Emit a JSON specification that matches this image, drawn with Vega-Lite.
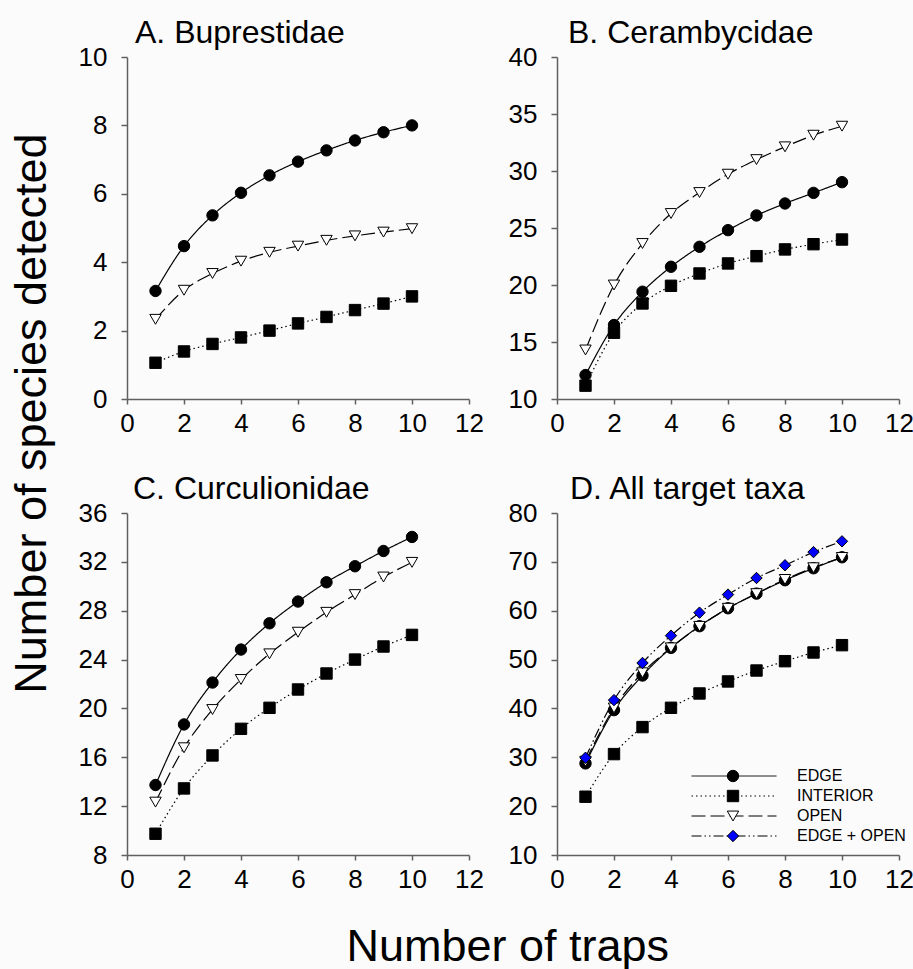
{
  "$schema": "https://vega.github.io/schema/vega-lite/v6.json",
  "background": "#fbfbfb",
  "padding": {"left": 10, "top": 17, "right": 0, "bottom": 0},
  "config": {
    "font": "Liberation Sans",
    "view": {"stroke": null},
    "axis": {"grid": false, "domainColor": "#606060", "domainWidth": 1.5, "tickColor": "#606060", "tickWidth": 1.5, "labelFont": "Liberation Sans", "labelFontSize": 26, "labelColor": "black", "labelFlush": false},
    "axisX": {"tickSize": 5, "labelPadding": 6},
    "axisY": {"tickSize": 6, "labelPadding": 14},
    "title": {"font": "Liberation Sans", "fontSize": 32, "fontWeight": "normal", "color": "black", "anchor": "start"}
  },
  "datasets": {
    "A": [
      {"traps": 1, "species": 1.06, "series": "INTERIOR"}, {"traps": 2, "species": 1.39, "series": "INTERIOR"}, {"traps": 3, "species": 1.61, "series": "INTERIOR"}, {"traps": 4, "species": 1.80, "series": "INTERIOR"}, {"traps": 5, "species": 2.00, "series": "INTERIOR"}, {"traps": 6, "species": 2.21, "series": "INTERIOR"}, {"traps": 7, "species": 2.40, "series": "INTERIOR"}, {"traps": 8, "species": 2.60, "series": "INTERIOR"}, {"traps": 9, "species": 2.79, "series": "INTERIOR"}, {"traps": 10, "species": 3.00, "series": "INTERIOR"},
      {"traps": 1, "species": 3.16, "series": "EDGE"}, {"traps": 2, "species": 4.47, "series": "EDGE"}, {"traps": 3, "species": 5.37, "series": "EDGE"}, {"traps": 4, "species": 6.03, "series": "EDGE"}, {"traps": 5, "species": 6.54, "series": "EDGE"}, {"traps": 6, "species": 6.94, "series": "EDGE"}, {"traps": 7, "species": 7.27, "series": "EDGE"}, {"traps": 8, "species": 7.56, "series": "EDGE"}, {"traps": 9, "species": 7.80, "series": "EDGE"}, {"traps": 10, "species": 8.00, "series": "EDGE"},
      {"traps": 1, "species": 2.33, "series": "OPEN"}, {"traps": 2, "species": 3.18, "series": "OPEN"}, {"traps": 3, "species": 3.67, "series": "OPEN"}, {"traps": 4, "species": 4.03, "series": "OPEN"}, {"traps": 5, "species": 4.29, "series": "OPEN"}, {"traps": 6, "species": 4.47, "series": "OPEN"}, {"traps": 7, "species": 4.64, "series": "OPEN"}, {"traps": 8, "species": 4.77, "series": "OPEN"}, {"traps": 9, "species": 4.88, "series": "OPEN"}, {"traps": 10, "species": 4.98, "series": "OPEN"}
    ],
    "B": [
      {"traps": 1, "species": 11.17, "series": "INTERIOR"}, {"traps": 2, "species": 15.81, "series": "INTERIOR"}, {"traps": 3, "species": 18.38, "series": "INTERIOR"}, {"traps": 4, "species": 19.93, "series": "INTERIOR"}, {"traps": 5, "species": 21.01, "series": "INTERIOR"}, {"traps": 6, "species": 21.89, "series": "INTERIOR"}, {"traps": 7, "species": 22.53, "series": "INTERIOR"}, {"traps": 8, "species": 23.12, "series": "INTERIOR"}, {"traps": 9, "species": 23.58, "series": "INTERIOR"}, {"traps": 10, "species": 23.99, "series": "INTERIOR"},
      {"traps": 1, "species": 12.1, "series": "EDGE"}, {"traps": 2, "species": 16.49, "series": "EDGE"}, {"traps": 3, "species": 19.41, "series": "EDGE"}, {"traps": 4, "species": 21.6, "series": "EDGE"}, {"traps": 5, "species": 23.35, "series": "EDGE"}, {"traps": 6, "species": 24.81, "series": "EDGE"}, {"traps": 7, "species": 26.1, "series": "EDGE"}, {"traps": 8, "species": 27.15, "series": "EDGE"}, {"traps": 9, "species": 28.08, "series": "EDGE"}, {"traps": 10, "species": 29.02, "series": "EDGE"},
      {"traps": 1, "species": 14.3, "series": "OPEN"}, {"traps": 2, "species": 20.0, "series": "OPEN"}, {"traps": 3, "species": 23.64, "series": "OPEN"}, {"traps": 4, "species": 26.27, "series": "OPEN"}, {"traps": 5, "species": 28.11, "series": "OPEN"}, {"traps": 6, "species": 29.72, "series": "OPEN"}, {"traps": 7, "species": 31.0, "series": "OPEN"}, {"traps": 8, "species": 32.12, "series": "OPEN"}, {"traps": 9, "species": 33.14, "series": "OPEN"}, {"traps": 10, "species": 33.93, "series": "OPEN"}
    ],
    "C": [
      {"traps": 1, "species": 9.74, "series": "INTERIOR"}, {"traps": 2, "species": 13.45, "series": "INTERIOR"}, {"traps": 3, "species": 16.15, "series": "INTERIOR"}, {"traps": 4, "species": 18.33, "series": "INTERIOR"}, {"traps": 5, "species": 20.05, "series": "INTERIOR"}, {"traps": 6, "species": 21.55, "series": "INTERIOR"}, {"traps": 7, "species": 22.86, "series": "INTERIOR"}, {"traps": 8, "species": 24.0, "series": "INTERIOR"}, {"traps": 9, "species": 25.07, "series": "INTERIOR"}, {"traps": 10, "species": 26.02, "series": "INTERIOR"},
      {"traps": 1, "species": 13.73, "series": "EDGE"}, {"traps": 2, "species": 18.69, "series": "EDGE"}, {"traps": 3, "species": 22.12, "series": "EDGE"}, {"traps": 4, "species": 24.82, "series": "EDGE"}, {"traps": 5, "species": 26.97, "series": "EDGE"}, {"traps": 6, "species": 28.75, "series": "EDGE"}, {"traps": 7, "species": 30.33, "series": "EDGE"}, {"traps": 8, "species": 31.64, "series": "EDGE"}, {"traps": 9, "species": 32.89, "series": "EDGE"}, {"traps": 10, "species": 34.04, "series": "EDGE"},
      {"traps": 1, "species": 12.33, "series": "OPEN"}, {"traps": 2, "species": 16.78, "series": "OPEN"}, {"traps": 3, "species": 19.91, "series": "OPEN"}, {"traps": 4, "species": 22.37, "series": "OPEN"}, {"traps": 5, "species": 24.47, "series": "OPEN"}, {"traps": 6, "species": 26.24, "series": "OPEN"}, {"traps": 7, "species": 27.87, "series": "OPEN"}, {"traps": 8, "species": 29.32, "series": "OPEN"}, {"traps": 9, "species": 30.76, "series": "OPEN"}, {"traps": 10, "species": 31.96, "series": "OPEN"}
    ],
    "D": [
      {"traps": 1, "species": 21.93, "series": "INTERIOR"}, {"traps": 2, "species": 30.65, "series": "INTERIOR"}, {"traps": 3, "species": 36.18, "series": "INTERIOR"}, {"traps": 4, "species": 40.13, "series": "INTERIOR"}, {"traps": 5, "species": 43.06, "series": "INTERIOR"}, {"traps": 6, "species": 45.52, "series": "INTERIOR"}, {"traps": 7, "species": 47.76, "series": "INTERIOR"}, {"traps": 8, "species": 49.67, "series": "INTERIOR"}, {"traps": 9, "species": 51.45, "series": "INTERIOR"}, {"traps": 10, "species": 52.95, "series": "INTERIOR"},
      {"traps": 1, "species": 28.75, "series": "EDGE"}, {"traps": 2, "species": 39.65, "series": "EDGE"}, {"traps": 3, "species": 46.74, "series": "EDGE"}, {"traps": 4, "species": 52.4, "series": "EDGE"}, {"traps": 5, "species": 56.83, "series": "EDGE"}, {"traps": 6, "species": 60.5, "series": "EDGE"}, {"traps": 7, "species": 63.5, "series": "EDGE"}, {"traps": 8, "species": 66.24, "series": "EDGE"}, {"traps": 9, "species": 68.69, "series": "EDGE"}, {"traps": 10, "species": 70.94, "series": "EDGE"},
      {"traps": 1, "species": 29.2, "series": "OPEN"}, {"traps": 2, "species": 40.1, "series": "OPEN"}, {"traps": 3, "species": 47.3, "series": "OPEN"}, {"traps": 4, "species": 52.4, "series": "OPEN"}, {"traps": 5, "species": 56.8, "series": "OPEN"}, {"traps": 6, "species": 60.5, "series": "OPEN"}, {"traps": 7, "species": 63.5, "series": "OPEN"}, {"traps": 8, "species": 66.4, "series": "OPEN"}, {"traps": 9, "species": 68.8, "series": "OPEN"}, {"traps": 10, "species": 70.9, "series": "OPEN"},
      {"traps": 1, "species": 29.9, "series": "EDGE + OPEN"}, {"traps": 2, "species": 41.7, "series": "EDGE + OPEN"}, {"traps": 3, "species": 49.3, "series": "EDGE + OPEN"}, {"traps": 4, "species": 54.9, "series": "EDGE + OPEN"}, {"traps": 5, "species": 59.6, "series": "EDGE + OPEN"}, {"traps": 6, "species": 63.3, "series": "EDGE + OPEN"}, {"traps": 7, "species": 66.7, "series": "EDGE + OPEN"}, {"traps": 8, "species": 69.3, "series": "EDGE + OPEN"}, {"traps": 9, "species": 72.0, "series": "EDGE + OPEN"}, {"traps": 10, "species": 74.2, "series": "EDGE + OPEN"}
    ]
  },
  "title": {"text": "Number of traps", "orient": "bottom", "anchor": "middle", "fontSize": 45, "font": "Liberation Sans", "fontWeight": "normal", "color": "black", "offset": 33, "dx": 46},
  "vconcat": [
    {
      "title": {"text": "Number of species detected", "orient": "left", "anchor": "middle", "fontSize": 45, "font": "Liberation Sans", "fontWeight": "normal", "color": "black", "offset": 23, "dx": 41},
      "columns": 2,
      "spacing": {"row": 114, "column": 88},
      "bounds": "flush",
      "resolve": {"legend": {"shape": "independent", "fill": "independent", "strokeDash": "independent"}},
      "concat": [
        {
          "width": 342, "height": 342,
          "title": {"text": "A. Buprestidae", "dx": 8, "frame": "group", "baseline": "alphabetic", "offset": -31},
          "data": {"name": "A"},
          "encoding": {
            "x": {"field": "traps", "type": "quantitative", "scale": {"domain": [0, 12]}, "axis": {"values": [0, 2, 4, 6, 8, 10, 12], "title": null}},
            "y": {"field": "species", "type": "quantitative", "scale": {"domain": [0, 10]}, "axis": {"values": [0, 2, 4, 6, 8, 10], "title": null}}
          },
          "layer": [
            {"mark": {"type": "line", "color": "black", "strokeWidth": 1.2, "interpolate": "monotone"},
             "encoding": {"strokeDash": {"field": "series", "type": "nominal", "scale": {"domain": ["EDGE", "INTERIOR", "OPEN", "EDGE + OPEN"], "range": [[1, 0], [1.5, 3], [14, 5], [10, 3, 1.5, 3, 1.5, 3]]}, "legend": null}}},
            {"mark": {"type": "point", "filled": true, "opacity": 1, "stroke": "black", "strokeWidth": 1, "size": 130},
             "encoding": {
               "shape": {"field": "series", "type": "nominal", "sort": ["EDGE", "INTERIOR", "OPEN", "EDGE + OPEN"], "scale": {"range": ["circle", "square", "triangle-down", "diamond"]}, "legend": null},
               "fill": {"field": "series", "type": "nominal", "sort": ["EDGE", "INTERIOR", "OPEN", "EDGE + OPEN"], "scale": {"range": ["black", "black", "white", "#0000ff"]}, "legend": null}
             }}
          ]
        },
        {
          "width": 342, "height": 342,
          "title": {"text": "B. Cerambycidae", "dx": 11, "frame": "group", "baseline": "alphabetic", "offset": -31},
          "data": {"name": "B"},
          "encoding": {
            "x": {"field": "traps", "type": "quantitative", "scale": {"domain": [0, 12]}, "axis": {"values": [0, 2, 4, 6, 8, 10, 12], "title": null}},
            "y": {"field": "species", "type": "quantitative", "scale": {"domain": [10, 40]}, "axis": {"values": [10, 15, 20, 25, 30, 35, 40], "title": null}}
          },
          "layer": [
            {"mark": {"type": "line", "color": "black", "strokeWidth": 1.2, "interpolate": "monotone"},
             "encoding": {"strokeDash": {"field": "series", "type": "nominal", "scale": {"domain": ["EDGE", "INTERIOR", "OPEN", "EDGE + OPEN"], "range": [[1, 0], [1.5, 3], [14, 5], [10, 3, 1.5, 3, 1.5, 3]]}, "legend": null}}},
            {"mark": {"type": "point", "filled": true, "opacity": 1, "stroke": "black", "strokeWidth": 1, "size": 130},
             "encoding": {
               "shape": {"field": "series", "type": "nominal", "sort": ["EDGE", "INTERIOR", "OPEN", "EDGE + OPEN"], "scale": {"range": ["circle", "square", "triangle-down", "diamond"]}, "legend": null},
               "fill": {"field": "series", "type": "nominal", "sort": ["EDGE", "INTERIOR", "OPEN", "EDGE + OPEN"], "scale": {"range": ["black", "black", "white", "#0000ff"]}, "legend": null}
             }}
          ]
        },
        {
          "width": 342, "height": 342,
          "title": {"text": "C. Curculionidae", "dx": 6, "frame": "group", "baseline": "alphabetic", "offset": -31},
          "data": {"name": "C"},
          "encoding": {
            "x": {"field": "traps", "type": "quantitative", "scale": {"domain": [0, 12]}, "axis": {"values": [0, 2, 4, 6, 8, 10, 12], "title": null}},
            "y": {"field": "species", "type": "quantitative", "scale": {"domain": [8, 36]}, "axis": {"values": [8, 12, 16, 20, 24, 28, 32, 36], "title": null}}
          },
          "layer": [
            {"mark": {"type": "line", "color": "black", "strokeWidth": 1.2, "interpolate": "monotone"},
             "encoding": {"strokeDash": {"field": "series", "type": "nominal", "scale": {"domain": ["EDGE", "INTERIOR", "OPEN", "EDGE + OPEN"], "range": [[1, 0], [1.5, 3], [14, 5], [10, 3, 1.5, 3, 1.5, 3]]}, "legend": null}}},
            {"mark": {"type": "point", "filled": true, "opacity": 1, "stroke": "black", "strokeWidth": 1, "size": 130},
             "encoding": {
               "shape": {"field": "series", "type": "nominal", "sort": ["EDGE", "INTERIOR", "OPEN", "EDGE + OPEN"], "scale": {"range": ["circle", "square", "triangle-down", "diamond"]}, "legend": null},
               "fill": {"field": "series", "type": "nominal", "sort": ["EDGE", "INTERIOR", "OPEN", "EDGE + OPEN"], "scale": {"range": ["black", "black", "white", "#0000ff"]}, "legend": null}
             }}
          ]
        },
        {
          "width": 342, "height": 342,
          "title": {"text": "D. All target taxa", "dx": 13, "frame": "group", "baseline": "alphabetic", "offset": -31},
          "data": {"name": "D"},
          "encoding": {
            "x": {"field": "traps", "type": "quantitative", "scale": {"domain": [0, 12]}, "axis": {"values": [0, 2, 4, 6, 8, 10, 12], "title": null}},
            "y": {"field": "species", "type": "quantitative", "scale": {"domain": [10, 80]}, "axis": {"values": [10, 20, 30, 40, 50, 60, 70, 80], "title": null}}
          },
          "layer": [
            {"mark": {"type": "line", "color": "black", "strokeWidth": 1.2, "interpolate": "monotone"},
             "encoding": {"strokeDash": {"field": "series", "type": "nominal", "scale": {"domain": ["EDGE", "INTERIOR", "OPEN", "EDGE + OPEN"], "range": [[1, 0], [1.5, 3], [14, 5], [10, 3, 1.5, 3, 1.5, 3]]},
               "legend": {"orient": "none", "legendX": 134, "legendY": 255, "title": null, "symbolType": "stroke", "symbolSize": 7225, "symbolStrokeWidth": 1, "symbolStrokeColor": "black", "labelFont": "Liberation Sans", "labelFontSize": 16, "labelColor": "black", "labelOffset": 20, "rowPadding": 4, "clipHeight": 16, "padding": 0, "zindex": 0}}}},
            {"mark": {"type": "point", "filled": true, "opacity": 1, "stroke": "black", "strokeWidth": 1, "size": 130},
             "encoding": {
               "shape": {"field": "series", "type": "nominal", "sort": ["EDGE", "INTERIOR", "OPEN", "EDGE + OPEN"], "scale": {"range": ["circle", "square", "triangle-down", "diamond"]}, "legend": null},
               "fill": {"field": "series", "type": "nominal", "sort": ["EDGE", "INTERIOR", "OPEN", "EDGE + OPEN"], "scale": {"range": ["black", "black", "white", "#0000ff"]},
                 "legend": {"orient": "none", "legendX": 134, "legendY": 255, "title": null, "symbolType": {"expr": "datum.value === 'EDGE' ? 'circle' : datum.value === 'INTERIOR' ? 'square' : datum.value === 'OPEN' ? 'triangle-down' : 'diamond'"}, "symbolSize": 130, "symbolStrokeWidth": 1, "symbolStrokeColor": "black", "symbolOffset": 34, "labelFont": "Liberation Sans", "labelFontSize": 16, "labelExpr": "''", "labelOffset": 20, "rowPadding": 4, "clipHeight": 16, "padding": 0, "zindex": 1}}
             }}
          ]
        }
      ]
    }
  ]
}
